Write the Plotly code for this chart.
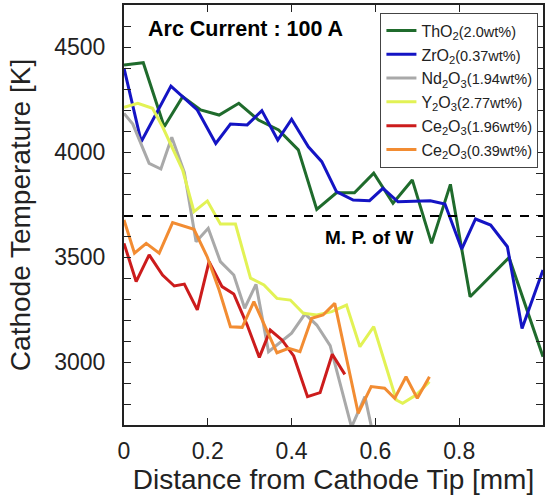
import plotly.graph_objects as go

# ---- data ----
tho2_x = [0.0, 0.046, 0.096, 0.14, 0.183, 0.227, 0.274, 0.321, 0.369, 0.416, 0.46, 0.507, 0.55, 0.596, 0.642, 0.688, 0.734, 0.779, 0.826, 0.919, 1.0]
tho2_y = [4414, 4425, 4120, 4263, 4200, 4176, 4232, 4152, 4105, 4010, 3727, 3806, 3806, 3899, 3756, 3867, 3565, 3846, 3311, 3497, 3025]

zro2_x = [0.0, 0.041, 0.112, 0.175, 0.219, 0.254, 0.294, 0.329, 0.367, 0.40, 0.44, 0.472, 0.507, 0.547, 0.586, 0.618, 0.654, 0.693, 0.731, 0.766, 0.806, 0.839, 0.875, 0.915, 0.95, 1.0]
zro2_y = [4399, 4049, 4314, 4200, 4041, 4133, 4129, 4197, 4057, 4156, 4025, 3954, 3811, 3771, 3768, 3827, 3763, 3767, 3768, 3752, 3538, 3681, 3652, 3549, 3160, 3438]

nd2o3_x = [0.0, 0.021, 0.06, 0.088, 0.114, 0.144, 0.172, 0.201, 0.23, 0.262, 0.288, 0.315, 0.345, 0.40, 0.432, 0.46, 0.492, 0.543, 0.575, 0.595]
nd2o3_y = [4184, 4133, 3946, 3919, 4070, 3903, 3573, 3637, 3478, 3414, 3256, 3370, 3049, 3137, 3229, 3176, 3078, 2690, 2835, 2650]

y2o3_x = [0.0, 0.033, 0.068, 0.092, 0.14, 0.167, 0.199, 0.23, 0.266, 0.302, 0.334, 0.365, 0.397, 0.428, 0.46, 0.496, 0.531, 0.563, 0.596, 0.65, 0.665, 0.697, 0.729]
y2o3_y = [4213, 4232, 4208, 4120, 3914, 3716, 3767, 3657, 3657, 3399, 3367, 3303, 3295, 3232, 3224, 3240, 3271, 3073, 3168, 2819, 2803, 2843, 2906]

ce196_x = [0.0, 0.029, 0.06, 0.092, 0.12, 0.144, 0.175, 0.203, 0.234, 0.262, 0.294, 0.323, 0.349, 0.377, 0.405, 0.438, 0.468, 0.497, 0.527]
ce196_y = [3565, 3383, 3510, 3414, 3362, 3371, 3248, 3478, 3359, 3324, 3176, 3022, 3152, 3105, 3029, 2835, 2854, 3037, 2941]

ce039_x = [0.0, 0.025, 0.053, 0.084, 0.116, 0.167, 0.199, 0.227, 0.254, 0.282, 0.31, 0.341, 0.365, 0.393, 0.42, 0.448, 0.475, 0.503, 0.559, 0.59, 0.622, 0.646, 0.673, 0.70, 0.729]
ce039_y = [3676, 3518, 3565, 3518, 3664, 3632, 3499, 3343, 3168, 3165, 3287, 3152, 3044, 3065, 3049, 3208, 3224, 3279, 2756, 2883, 2875, 2827, 2930, 2827, 2930]

melting_point_w = 3695

x_ticks = [0, 0.2, 0.4, 0.6, 0.8, 1]
x_tick_labels = ["0", "0.2", "0.4", "0.6", "0.8", "1"]
y_ticks = [3000, 3500, 4000, 4500]

SMALL = "<span style='font-size:14.5px'>"
series = [
    ("ThO<sub>2</sub>" + SMALL + "(2.0wt%)</span>", tho2_x, tho2_y, "#1f6b2c"),
    ("ZrO<sub>2</sub>" + SMALL + "(0.37wt%)</span>", zro2_x, zro2_y, "#1414c4"),
    ("Nd<sub>2</sub>O<sub>3</sub>" + SMALL + "(1.94wt%)</span>", nd2o3_x, nd2o3_y, "#a9a9a9"),
    ("Y<sub>2</sub>O<sub>3</sub>" + SMALL + "(2.77wt%)</span>", y2o3_x, y2o3_y, "#e2f255"),
    ("Ce<sub>2</sub>O<sub>3</sub>" + SMALL + "(1.96wt%)</span>", ce196_x, ce196_y, "#cc1c1c"),
    ("Ce<sub>2</sub>O<sub>3</sub>" + SMALL + "(0.39wt%)</span>", ce039_x, ce039_y, "#f28c32"),
]

fig = go.Figure()
for name, xs, ys, col in series:
    fig.add_trace(go.Scatter(x=xs, y=ys, mode="lines", name=name,
                             line=dict(color=col, width=3)))

fig.add_shape(type="line", xref="x", yref="y", x0=0, x1=1,
              y0=melting_point_w, y1=melting_point_w,
              line=dict(color="black", width=2, dash="dash"), layer="above")

fig.add_annotation(x=0.053, y=4586, xref="x", yref="y", text="<b>Arc Current : 100 A</b>",
                   showarrow=False, xanchor="left", yanchor="middle",
                   font=dict(size=21.5, color="black"))
fig.add_annotation(x=0.694, y=3595, xref="x", yref="y", text="<b>M. P. of W</b>",
                   showarrow=False, xanchor="right", yanchor="middle",
                   font=dict(size=19, color="black"))

fig.update_layout(
    width=547, height=497,
    margin=dict(l=124, r=2, t=5, b=72),
    paper_bgcolor="white", plot_bgcolor="white",
    font=dict(family="Liberation Sans, Arial, sans-serif", color="#222"),
    legend=dict(x=0.612, y=0.982, xanchor="left", yanchor="top",
                bgcolor="white", bordercolor="#444", borderwidth=1,
                font=dict(size=16, color="#222"), itemwidth=30,
                tracegroupgap=0),
    showlegend=True,
)
fig.update_xaxes(range=[0, 1], tickvals=x_ticks, ticktext=x_tick_labels,
                 ticks="inside", ticklen=7, tickwidth=1, tickcolor="#222",
                 mirror="allticks", showline=True, linecolor="#222", linewidth=2,
                 showgrid=False, zeroline=False, ticklabelstandoff=4,
                 tickfont=dict(size=23),
                 title=dict(text="Distance from Cathode Tip [mm]", font=dict(size=28), standoff=4))
fig.update_yaxes(range=[2700, 4700], tickvals=y_ticks,
                 ticks="inside", ticklen=7, tickwidth=1, tickcolor="#222",
                 minor=dict(dtick=100, tick0=0, ticks="inside", ticklen=7, tickcolor="#222"),
                 mirror="allticks", showline=True, linecolor="#222", linewidth=2,
                 showgrid=False, zeroline=False, ticklabelstandoff=12,
                 tickfont=dict(size=23),
                 title=dict(text="Cathode Temperature [K]", font=dict(size=28), standoff=15))

fig.write_html("out.html", config={"displayModeBar": False},
               post_script="document.body.style.margin='0';")
